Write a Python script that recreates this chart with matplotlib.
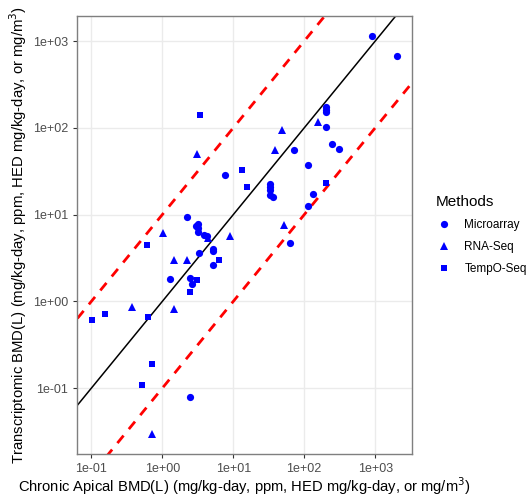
import matplotlib.pyplot as plt
import numpy as np

plt.rcParams['font.family'] = ['Liberation Sans', 'DejaVu Sans']

# Microarray points (apical BMD, transcriptomic BMD)
micro_x = [916, 2060, 206, 206, 206, 206, 245, 309, 72, 114, 33, 33, 33, 33.5, 36, 134, 114, 64,
           7.55, 2.23, 2.96, 3.18, 3.21, 3.21, 3.9, 4.24, 3.25, 5.2, 5.2, 5.2, 1.27, 2.48, 2.62, 2.48]
micro_y = [1135, 670, 175, 163, 153, 103, 64.5, 57.6, 55.6, 37.8, 22.5, 20.8, 19.2, 16.8, 15.8, 17.1, 12.7, 4.7,
           28.5, 9.3, 7.48, 7.82, 7.04, 6.39, 5.9, 5.63, 3.6, 4.05, 3.77, 2.65, 1.82, 1.87, 1.61, 0.08]

# RNA-Seq points
rna_x = [159, 49, 38.6, 52, 3.08, 1.04, 4.44, 9.07, 1.48, 2.23, 0.374, 1.48, 0.716]
rna_y = [117, 94, 55.6, 7.6, 50.5, 6.2, 5.41, 5.65, 2.97, 2.97, 0.87, 0.82, 0.0294]

# TempO-Seq points
tempo_x = [204, 13.3, 15.6, 3.43, 0.62, 6.35, 3.08, 2.48, 0.102, 0.154, 0.64, 0.716, 0.518]
tempo_y = [22.9, 32.8, 20.8, 140, 4.53, 3.0, 1.75, 1.27, 0.605, 0.71, 0.668, 0.19, 0.11]

xlim = [0.063, 3310]
ylim = [0.0174, 1950]

fig = plt.figure(figsize=(5.29, 4.98), dpi=100)
ax = fig.add_axes([0.1456, 0.088, 0.6333, 0.8799])

ax.set_xscale('log')
ax.set_yscale('log')
ax.set_xlim(xlim)
ax.set_ylim(ylim)

ax.grid(which='major', c='#EBEBEB', lw=1.0)
ax.minorticks_off()
ax.set_axisbelow(True)
for s in ax.spines.values():
    s.set_color('#7F7F7F')
    s.set_linewidth(1.0)

# identity and 10-fold lines
lx = np.array([0.01, 1e4])
ax.plot(lx, lx, c='black', lw=1.1, zorder=2)
ax.plot(lx, lx * 10, c='red', lw=2.0, ls=(0, (3.5, 3)), zorder=2)
ax.plot(lx, lx / 10, c='red', lw=2.0, ls=(0, (3.5, 3)), zorder=2)

ax.plot(micro_x, micro_y, ls='none', marker='o', ms=5.2, mew=0, c='#0000FF', label='Microarray', zorder=3)
ax.plot(rna_x, rna_y, ls='none', marker='^', ms=6.2, mew=0, c='#0000FF', label='RNA-Seq', zorder=3)
ax.plot(tempo_x, tempo_y, ls='none', marker='s', ms=4.6, mew=0, c='#0000FF', label='TempO-Seq', zorder=3)

ax.set_xticks([0.1, 1, 10, 100, 1000])
ax.set_xticklabels(['1e-01', '1e+00', '1e+01', '1e+02', '1e+03'])
ax.set_yticks([0.1, 1, 10, 100, 1000])
ax.set_yticklabels(['1e-01', '1e+00', '1e+01', '1e+02', '1e+03'])
ax.tick_params(labelsize=9, labelcolor='#4D4D4D', color='#333333', length=3, width=0.8)

ax.set_xlabel('Chronic Apical BMD(L) (mg/kg-day, ppm, HED mg/kg-day, or mg/m$^3$)', fontsize=10.6, labelpad=0)
ax.set_ylabel('Transcriptomic BMD(L) (mg/kg-day, ppm, HED mg/kg-day, or mg/m$^3$)', fontsize=10.7, labelpad=3)

leg = fig.legend(loc='upper left', bbox_to_anchor=(0.803, 0.63), frameon=False, title='Methods',
                 fontsize=8.5, title_fontsize=11, handletextpad=0.95, labelspacing=0.85, handlelength=1.5)
leg._legend_box.align = 'left'

fig.savefig('out.png', dpi=100)
